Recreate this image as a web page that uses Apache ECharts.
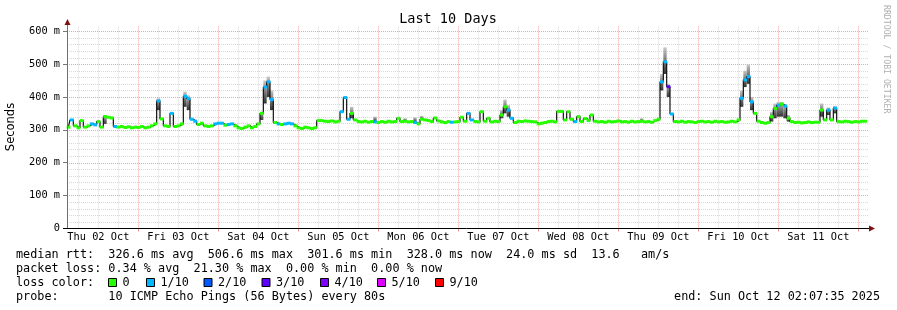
<!DOCTYPE html>
<html><head><meta charset="utf-8">
<script src="https://cdn.jsdelivr.net/npm/echarts@6/dist/echarts.min.js"></script>
<style>html,body{margin:0;padding:0;background:#fff}#c{width:897px;height:310px}</style>
</head><body><div id="c"></div>
<script>
// ---- data ----
const dayLabels = ['Thu 02 Oct','Fri 03 Oct','Sat 04 Oct','Sun 05 Oct','Mon 06 Oct','Tue 07 Oct','Wed 08 Oct','Thu 09 Oct','Fri 10 Oct','Sat 11 Oct'];
const dayLabelHours = [12,36,60,84,108,132,156,180,204,228];
const dayBoundaryHours = [24,48,72,96,120,144,168,192,216,240];
const yTickValues = [0,100,200,300,400,500,600];
const firstSampleHour = 3; // hours since Thu 02 Oct 00:00, one sample per hour
const medianMs = [
308,330,312,306,328,308,312,318,315,325,308,340,338,336,310,308,310,307,309,306,308,307,310,306,
308,312,318,388,333,312,310,350,310,312,318,402,395,332,326,316,320,312,310,312,318,320,320,314,
316,318,312,306,304,308,312,306,310,318,350,430,446,392,322,318,316,318,320,318,312,306,304,308,
306,304,306,328,328,326,325,327,324,326,355,398,332,350,330,325,324,326,323,325,324,322,325,323,
326,324,325,335,325,326,324,325,322,318,332,330,328,325,336,327,324,322,325,323,324,325,338,326,
350,330,325,324,355,326,335,324,326,325,345,370,360,335,322,326,325,327,326,325,324,318,320,322,
325,326,324,356,356,330,355,332,325,340,325,334,328,345,326,324,325,323,326,324,325,327,324,325,
323,326,324,325,326,324,325,323,328,332,446,507,431,348,325,324,326,323,325,324,322,325,326,324,
325,323,326,324,325,323,324,326,324,330,396,452,462,385,350,326,322,320,322,340,365,375,378,372,
335,325,322,323,321,322,324,322,323,323,360,330,360,330,366,325,324,326,325,323,325,324,326,326
];
const loss1of10Idx = [1,7,8,14,27,31,35,36,37,38,44,45,46,48,49,59,60,61,63,65,66,67,82,83,84,92,104,115,120,121,132,133,152,178,179,181,202,203,204,205,213,215,228,230];
const loss3of10Idx = [180];
// smoke: [sample index, low ms, high ms]
const smoke = [[11,318,345],[27,360,396],[35,370,416],[36,360,405],[58,330,355],[59,380,450],[60,400,462],[61,360,420],
[85,335,370],[92,325,340],[101,326,335],[104,322,338],[106,330,342],[130,335,360],[131,350,392],[132,340,375],[172,325,335],
[178,420,470],[179,470,551],[180,400,440],[202,370,420],[203,430,480],[204,440,499],[205,360,400],
[211,325,355],[212,335,380],[213,340,385],[214,340,385],[215,335,378],[216,325,345],[226,340,380],[228,345,368],[230,350,372]];
const legendLine1 = 'median rtt:  326.6 ms avg  506.6 ms max  301.6 ms min  328.0 ms now  24.0 ms sd  13.6   am/s';
const legendLine2 = 'packet loss: 0.34 % avg  21.30 % max  0.00 % min  0.00 % now';
const legendLine3 = 'loss color:';
const lossLabels = ['0','1/10','2/10','3/10','4/10','5/10','9/10'];
const lossColors = ['#26ff00','#00b8ff','#0059ff','#5e00ff','#7e00ff','#dd00ff','#ff0000'];
const legendLine4 = 'probe:       10 ICMP Echo Pings (56 Bytes) every 80s';
const endText = 'end: Sun Oct 12 02:07:35 2025';
const titleText = 'Last 10 Days';
const yName = 'Seconds';
const watermark = 'RRDTOOL / TOBI OETIKER';

// ---- build ----
const X_MIN = 2.6, X_MAX = 242.6, Y_MAX = 616;
const MONO = '"DejaVu Sans Mono", monospace';
const lossLevel = medianMs.map(() => 0);
loss1of10Idx.forEach(i => lossLevel[i] = 1);
loss3of10Idx.forEach(i => lossLevel[i] = 3);
const medianData = medianMs.map((v, i) => [firstSampleHour + i, v, lossLevel[i]]);
const smokeData = smoke.map(s => [firstSampleHour + s[0], s[1], s[2]]);

const gridData = [];
for (let h = 6; h < X_MAX; h += 6) if (h > X_MIN) gridData.push([h, h % 24 === 0 ? 1 : 0, 0]);
for (let v = 20; v <= 600; v += 20) gridData.push([v, v % 100 === 0 ? 1 : 0, 1]);

const chart = echarts.init(document.getElementById('c'), null, {renderer: 'canvas'});

const graphics = [];
graphics.push({type:'text', x:448, y:19.5, style:{text:titleText, font:'13.5px '+MONO, fill:'#000', align:'center', verticalAlign:'middle'}});
graphics.push({type:'text', x:11, y:127, rotation:Math.PI/2, style:{text:yName, font:'11.5px "DejaVu Sans", sans-serif', fill:'#000', align:'center', verticalAlign:'middle'}});
graphics.push({type:'text', x:886, y:5, rotation:-Math.PI/2, style:{text:watermark, font:'8.2px '+MONO, fill:'#b0b0b0', align:'left', verticalAlign:'middle'}});
// axis lines & arrows
graphics.push({type:'line', shape:{x1:67.5, y1:228.5, x2:67.5, y2:23}, style:{stroke:'#806868', lineWidth:1}, z:10});
graphics.push({type:'polygon', shape:{points:[[64.5,25],[70.5,25],[67.5,19]]}, style:{fill:'#7f1010'}, z:10});
graphics.push({type:'line', shape:{x1:63, y1:228.5, x2:870, y2:228.5}, style:{stroke:'#000', lineWidth:1}, z:10});
graphics.push({type:'polygon', shape:{points:[[869,225.5],[869,231.5],[875,228.5]]}, style:{fill:'#7f1010'}, z:10});
// legend lines
const lf = '11.8px ' + MONO;
graphics.push({type:'text', x:16, y:254.5, style:{text:legendLine1, font:lf, fill:'#000', verticalAlign:'middle'}});
graphics.push({type:'text', x:16, y:268.5, style:{text:legendLine2, font:lf, fill:'#000', verticalAlign:'middle'}});
graphics.push({type:'text', x:16, y:282.5, style:{text:legendLine3, font:lf, fill:'#000', verticalAlign:'middle'}});
graphics.push({type:'text', x:16, y:296.5, style:{text:legendLine4, font:lf, fill:'#000', verticalAlign:'middle'}});
graphics.push({type:'text', x:880, y:296.5, style:{text:endText, font:lf, fill:'#000', align:'right', verticalAlign:'middle'}});
const boxX = [108, 146, 203.5, 261.5, 320, 377, 435];
lossLabels.forEach((lab, k) => {
  graphics.push({type:'rect', shape:{x:boxX[k]+0.5, y:278.5, width:8, height:8}, style:{fill:lossColors[k], stroke:'#000', lineWidth:1}});
  graphics.push({type:'text', x:boxX[k]+14.5, y:282.5, style:{text:lab, font:lf, fill:'#000', verticalAlign:'middle'}});
});

chart.setOption({
  animation: false,
  backgroundColor: '#fff',
  grid: {left: 67, top: 26, width: 800, height: 202.3, containLabel: false},
  xAxis: {
    type: 'value', min: X_MIN, max: X_MAX,
    axisLine: {show: false},
    splitLine: {show: false},
    axisTick: {show: true, customValues: dayBoundaryHours, length: 3, lineStyle: {color: '#f08080'}},
    axisLabel: {customValues: dayLabelHours, margin: 4, fontFamily: MONO, fontSize: 10.3, color: '#000',
      formatter: v => dayLabels[dayLabelHours.indexOf(Math.round(v))] || ''}
  },
  yAxis: {
    type: 'value', min: 0, max: Y_MAX,
    axisLine: {show: false},
    splitLine: {show: false},
    axisTick: {show: true, customValues: yTickValues, length: 4, lineStyle: {color: '#777'}},
    axisLabel: {customValues: yTickValues, margin: 7, fontFamily: MONO, fontSize: 10.3, color: '#000',
      formatter: v => v === 0 ? '0' : v + ' m'}
  },
  series: [
    {
      type: 'custom', z: 1, silent: true, clip: false,
      data: gridData,
      renderItem: (params, api) => {
        const val = api.value(0), major = api.value(1), horiz = api.value(2);
        const color = major ? '#f5a3a3' : '#d9d9d9';
        let shape;
        if (horiz) {
          const a = api.coord([X_MIN, val]), b = api.coord([X_MAX, val]);
          const y = Math.round(a[1]) + 0.5;
          shape = {x1: a[0], y1: y, x2: b[0] + 1, y2: y};
        } else {
          const a = api.coord([val, 0]), b = api.coord([val, Y_MAX]);
          const x = Math.round(a[0]) + 0.5;
          shape = {x1: x, y1: a[1] + (major ? 3 : 0), x2: x, y2: b[1]};
        }
        return {type: 'line', shape, style: {stroke: color, lineWidth: 1, lineDash: [1, 1]}};
      }
    },
    {
      type: 'custom', z: 2, silent: true,
      data: smokeData,
      renderItem: (params, api) => {
        const t = api.value(0), lo = api.value(1), hi = api.value(2);
        const a = api.coord([t - 0.5, hi]), b = api.coord([t + 0.5, lo]);
        return {type: 'rect', shape: {x: a[0], y: a[1], width: b[0] - a[0], height: b[1] - a[1]},
          style: {fill: new echarts.graphic.LinearGradient(0, 0, 0, 1, [{offset: 0, color: '#c8c8c8'}, {offset: 0.5, color: '#777'}, {offset: 1, color: '#333'}])}};
      }
    },
    {
      type: 'line', z: 3, silent: true, step: 'middle', symbol: 'none',
      data: medianData.map(d => [d[0], d[1]]),
      lineStyle: {color: '#111', width: 1.2}
    },
    {
      type: 'custom', z: 4, silent: true,
      data: medianData,
      renderItem: (params, api) => {
        const t = api.value(0), v = api.value(1), l = api.value(2);
        const a = api.coord([t - 0.5, v]), b = api.coord([t + 0.5, v]);
        return {type: 'rect', shape: {x: a[0], y: a[1] - 1.5, width: b[0] - a[0] + 0.4, height: 3},
          style: {fill: lossColors[l]}};
      }
    }
  ],
  graphic: graphics
});
</script></body></html>
